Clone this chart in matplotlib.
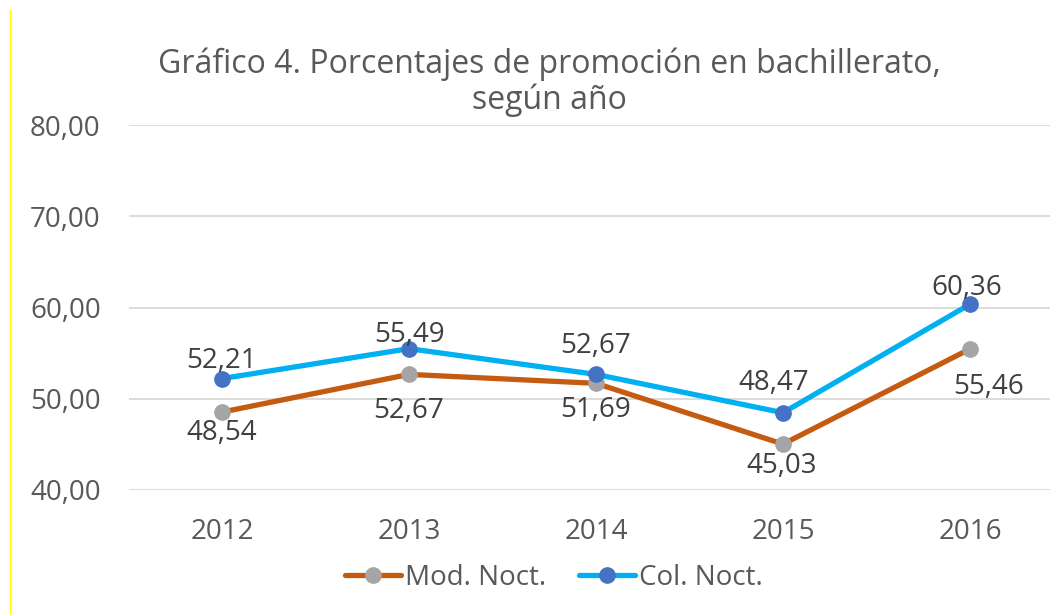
import matplotlib
matplotlib.use("Agg")
import matplotlib.pyplot as plt
from matplotlib.lines import Line2D

# ---- data ----
years = ["2012", "2013", "2014", "2015", "2016"]
mod_noct = [48.54, 52.67, 51.69, 45.03, 55.46]
col_noct = [52.21, 55.49, 52.67, 48.47, 60.36]
series_names = ["Mod. Noct.", "Col. Noct."]
title_line1 = "Gráfico 4. Porcentajes de promoción en bachillerato,"
title_line2 = "según año"
yticks = [40, 50, 60, 70, 80]

# ---- style ----
W, H, DPI = 1050, 615, 100
TXT = "#595959"
LBL = "#404040"
FONT = ["Open Sans", "DejaVu Sans"]
plt.rcParams["font.family"] = FONT

# label offsets in pixels (dx, dy of text centre relative to point; dy up-positive)
col_off = [(0, 21), (0, 17), (0, 31), (-9, 33), (-3, 19)]
mod_off = [(0, -18), (0, -34), (0, -24), (-1, -19), (19, -35)]
PX = 72.0 / DPI  # points per pixel
HALF_DIGIT = 10  # px, half height of digits

fig = plt.figure(figsize=(W / DPI, H / DPI), dpi=DPI)
ax = fig.add_axes([128.5 / W, (H - 490) / H, 935 / W, 365 / H])

x = list(range(len(years)))
ax.plot(x, mod_noct, color="#C55A11", lw=3.8, marker="o", ms=11,
        mfc="#A5A5A5", mec="#A5A5A5", solid_capstyle="round", zorder=3,
        label=series_names[0])
ax.plot(x, col_noct, color="#00B0F0", lw=3.8, marker="o", ms=11,
        mfc="#4472C4", mec="#4472C4", solid_capstyle="round", zorder=4,
        label=series_names[1])

def fmt(v):
    return f"{v:.2f}".replace(".", ",")

for xi, v, (dx, dy) in zip(x, col_noct, col_off):
    ax.annotate(fmt(v), (xi, v), xytext=(dx * PX, (dy - HALF_DIGIT) * PX),
                textcoords="offset points", ha="center", va="baseline",
                fontsize=20, color=LBL, zorder=6)
for xi, v, (dx, dy) in zip(x, mod_noct, mod_off):
    ax.annotate(fmt(v), (xi, v), xytext=(dx * PX, (dy - HALF_DIGIT) * PX),
                textcoords="offset points", ha="center", va="baseline",
                fontsize=20, color=LBL, zorder=6)

ax.set_xlim(-0.5, len(years) - 0.5)
ax.set_ylim(yticks[0], yticks[-1])
ax.set_yticks(yticks)
ax.set_yticklabels([fmt(t) for t in yticks])
ax.set_xticks(x)
ax.set_xticklabels(years)
ax.tick_params(axis="both", length=0, labelsize=20, labelcolor=TXT)
ax.tick_params(axis="y", pad=20)
ax.tick_params(axis="x", pad=20)
for s in ax.spines.values():
    s.set_visible(False)
ax.grid(axis="y", color="#D9D9D9", lw=1.3)
ax.set_axisbelow(True)

# title
fig.text(549 / W, 1 - 73 / H, title_line1, ha="center", va="baseline",
         fontsize=23, color=TXT)
fig.text(549 / W, 1 - 109 / H, title_line2, ha="center", va="baseline",
         fontsize=23, color=TXT)

# legend
fig.legend(loc="center", bbox_to_anchor=(554 / W, 1 - 578 / H), ncol=2,
           frameon=False, fontsize=20, labelcolor=TXT, handlelength=2.0,
           handletextpad=0.15, columnspacing=1.2, borderaxespad=0)

# yellow left border line
fig.add_artist(Line2D([9.5 / W, 9.5 / W], [0, 1 - 10 / H],
                      transform=fig.transFigure, color="#FFFF00", lw=1))

fig.savefig("out.png", dpi=DPI)
